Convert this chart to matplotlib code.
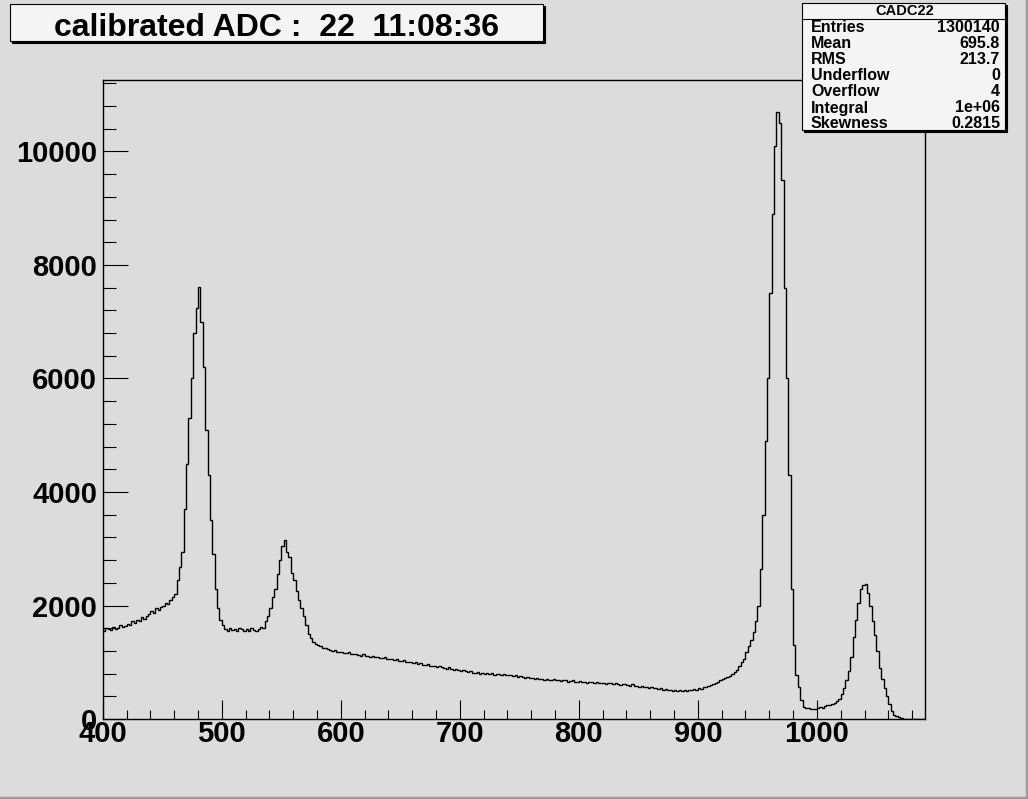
import numpy as np
import matplotlib
matplotlib.use("Agg")
from matplotlib import pyplot as plt
from matplotlib.patches import Rectangle
from matplotlib.ticker import MultipleLocator

# histogram CADC22, bins of 2 ADC units starting at 400
x_start = 400
bin_width = 2
counts = [
    1560, 1600, 1580, 1570, 1620, 1590, 1610, 1650, 1620, 1640,   # 400
    1680, 1660, 1720, 1700, 1750, 1730, 1790, 1760, 1820, 1850,   # 420
    1900, 1870, 1950, 1920, 1980, 2000, 2050, 2020, 2100, 2150,   # 440
    2200, 2450, 2680, 2950, 3700, 4500, 5300, 6000, 6800, 7250,   # 460
    7620, 7000, 6200, 5100, 4300, 3500, 2900, 2300, 1950, 1750,   # 480
    1650, 1590, 1560, 1600, 1570, 1590, 1550, 1600, 1580, 1560,   # 500
    1580, 1560, 1600, 1570, 1560, 1590, 1620, 1600, 1720, 1820,   # 520
    1950, 2150, 2300, 2550, 2800, 3050, 3150, 2950, 2850, 2580,   # 540
    2450, 2250, 2100, 1950, 1820, 1660, 1500, 1420, 1360, 1330,   # 560
    1300, 1280, 1250, 1260, 1230, 1220, 1200, 1210, 1180, 1190,   # 580
    1180, 1170, 1160, 1180, 1150, 1140, 1150, 1130, 1120, 1140,   # 600
    1110, 1120, 1100, 1110, 1090, 1100, 1080, 1070, 1090, 1060,   # 620
    1060, 1050, 1040, 1050, 1030, 1020, 1040, 1010, 1000, 1010,   # 640
    990, 1000, 970, 980, 960, 950, 970, 940, 930, 940,            # 660
    920, 930, 910, 900, 890, 910, 880, 870, 880, 860,             # 680
    850, 860, 840, 830, 850, 820, 810, 830, 800, 810,             # 700
    800, 820, 790, 810, 780, 800, 790, 780, 800, 770,             # 720
    780, 770, 760, 780, 750, 760, 740, 730, 750, 720,             # 740
    730, 710, 720, 700, 710, 690, 700, 690, 680, 700,             # 760
    690, 680, 670, 690, 680, 660, 670, 680, 650, 660,             # 780
    670, 650, 660, 640, 660, 650, 630, 650, 640, 630,             # 800
    640, 620, 630, 640, 610, 630, 620, 600, 620, 610,             # 820
    600, 590, 610, 580, 590, 570, 580, 560, 570, 550,             # 840
    560, 540, 550, 530, 540, 520, 530, 510, 520, 500,             # 860
    510, 500, 520, 490, 510, 500, 520, 510, 530, 520,             # 880
    540, 530, 560, 570, 590, 600, 620, 640, 660, 690,             # 900
    700, 720, 750, 760, 790, 830, 870, 940, 1000, 1060,           # 920
    1180, 1290, 1400, 1530, 1720, 2000, 2650, 3600, 4900, 6000,   # 940
    7500, 8900, 10100, 10700, 10500, 9500, 7600, 6000, 4300, 2300,  # 960
    1300, 780, 560, 330, 220, 200, 190, 180, 185, 180,            # 980
    190, 205, 200, 225, 240, 255, 270, 290, 320, 360,             # 1000
    440, 540, 680, 850, 1100, 1450, 1750, 2050, 2300, 2360,       # 1020
    2380, 2220, 2000, 1720, 1480, 1200, 900, 700, 540, 400,       # 1040
    260, 150, 80, 55, 40, 15, 5, 2, 0, 0,                         # 1060
    0, 0, 0, 0, 0,                                                # 1080
]

title_text = "calibrated ADC :  22  11:08:36"
stats_name = "CADC22"
stats_labels = ["Entries", "Mean", "RMS", "Underflow", "Overflow", "Integral", "Skewness"]
stats_values = ["1300140", "695.8", "213.7", "0", "4", "1e+06", "0.2815"]

W, H = 1028, 799
bg = "#dcdcdc"
box_fill = "#f4f4f4"
fam = ["Liberation Sans", "DejaVu Sans"]

edges = x_start + bin_width * np.arange(len(counts) + 1)

fig = plt.figure(figsize=(W / 100, H / 100), dpi=100, facecolor=bg)
ax = fig.add_axes([0.1, 0.1, 0.8, 0.8], facecolor=bg)

ax.stairs(counts, edges, baseline=None, color="black", lw=1.0)

ax.set_xlim(400, 1091)
ax.set_ylim(0, 11260)

ax.xaxis.set_major_locator(MultipleLocator(100))
ax.xaxis.set_minor_locator(MultipleLocator(20))
ax.yaxis.set_major_locator(MultipleLocator(2000))
ax.yaxis.set_minor_locator(MultipleLocator(400))

ax.tick_params(axis="x", which="major", direction="in", length=13.5, width=0.8, pad=1)
ax.tick_params(axis="x", which="minor", direction="in", length=6.5, width=0.8)
ax.tick_params(axis="y", which="major", direction="in", length=18, width=0.8, pad=4)
ax.tick_params(axis="y", which="minor", direction="in", length=9.5, width=0.8)
ax.tick_params(top=False, right=False, which="both")

for lab in ax.get_xticklabels() + ax.get_yticklabels():
    lab.set_family(fam)
    lab.set_fontweight("bold")
    lab.set_fontsize(21)

for sp in ax.spines.values():
    sp.set_linewidth(1.0)


def px(x0, y0, x1, y1):
    # pixel box (top-left origin) -> figure fractions
    return x0 / W, 1 - y1 / H, (x1 - x0) / W, (y1 - y0) / H


def boxed(x0, y0, x1, y1):
    l, b, w, h = px(x0 + 2, y0 + 2, x1 + 2, y1 + 2)
    fig.add_artist(Rectangle((l, b), w, h, transform=fig.transFigure,
                             facecolor="black", edgecolor="black", lw=0.8, zorder=5))
    l, b, w, h = px(x0, y0, x1, y1)
    fig.add_artist(Rectangle((l, b), w, h, transform=fig.transFigure,
                             facecolor=box_fill, edgecolor="black", lw=0.8, zorder=6))


# title box
boxed(10, 4, 543, 41)
fig.text(277 / W, 1 - 28 / H, title_text, ha="center", va="center",
         fontsize=23, fontweight="bold", family=fam, zorder=7)

# stats box
boxed(802, 3, 1005, 130)
fig.text(905 / W, 1 - 11 / H, stats_name, ha="center", va="center",
         fontsize=10.5, fontweight="bold", family=fam, zorder=7)
fig.add_artist(plt.Line2D([802 / W, 1005 / W], [1 - 19 / H, 1 - 19 / H],
                          transform=fig.transFigure, color="black", lw=0.8, zorder=7))
for i, (lab, val) in enumerate(zip(stats_labels, stats_values)):
    yy = 1 - (28 + 16 * i) / H
    fig.text(811 / W, yy, lab, ha="left", va="center", fontsize=11.5,
             fontweight="bold", family=fam, zorder=7)
    fig.text(1000 / W, yy, val, ha="right", va="center", fontsize=11.5,
             fontweight="bold", family=fam, zorder=7)

# canvas bevel
fig.add_artist(plt.Line2D([0, 1], [1.5 / H, 1.5 / H], transform=fig.transFigure,
                          color="#9a9a9a", lw=2.5))
fig.add_artist(plt.Line2D([1 - 1.5 / W, 1 - 1.5 / W], [0, 1], transform=fig.transFigure,
                          color="#9a9a9a", lw=2.5))

fig.savefig("out.png", dpi=100, facecolor=bg)
